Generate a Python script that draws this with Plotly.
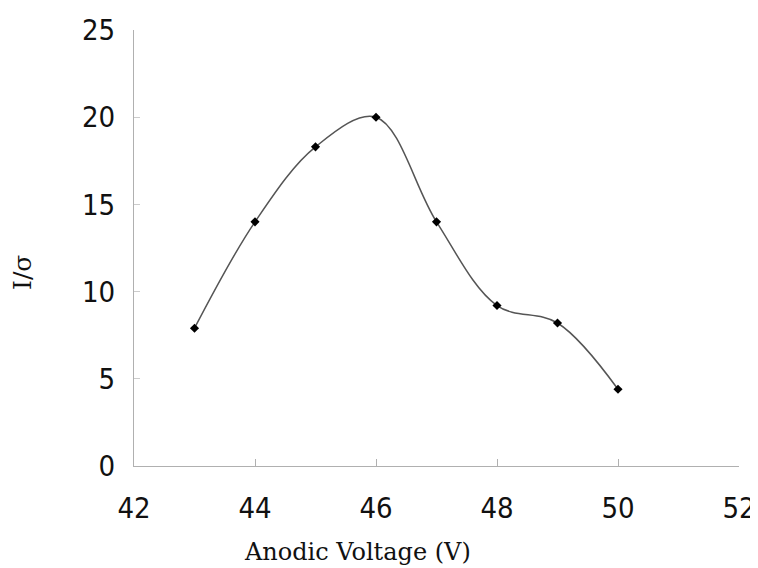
import plotly.graph_objects as go

voltage = [43, 44, 45, 46, 47, 48, 49, 50]
i_sigma = [7.9, 14.0, 18.3, 20.0, 14.0, 9.2, 8.2, 4.4]
x_ticks = [42, 44, 46, 48, 50, 52]
y_ticks = [0, 5, 10, 15, 20, 25]

fig = go.Figure()
fig.add_trace(go.Scatter(
    x=voltage, y=i_sigma, mode="lines+markers",
    line=dict(shape="spline", smoothing=1.0, color="#555555", width=1.5),
    marker=dict(symbol="diamond", size=7, color="black"),
    showlegend=False,
))

tickfont = dict(family="DejaVu Sans Condensed, Liberation Sans, Arial", size=29, color="#111111")
fig.update_layout(
    width=750, height=560,
    margin=dict(l=126, r=19, t=22, b=102),
    paper_bgcolor="white", plot_bgcolor="white",
    xaxis=dict(range=[42, 52], tickvals=x_ticks, showgrid=False, zeroline=False,
               showline=True, linecolor="#b0b0b0", linewidth=1,
               ticks="inside", ticklen=7, tickcolor="#b0b0b0",
               tickfont=tickfont, ticklabelstandoff=16, automargin=False),
    yaxis=dict(range=[0, 25], tickvals=y_ticks, showgrid=False, zeroline=False,
               showline=True, linecolor="#b0b0b0", linewidth=1,
               ticks="inside", ticklen=6, tickcolor="#cccccc",
               tickfont=tickfont, ticklabelstandoff=12, automargin=False),
    annotations=[
        dict(text="Anodic Voltage (V)", x=0.3686, y=0, xref="paper", yref="paper",
             xanchor="center", yanchor="middle", yshift=-86, showarrow=False,
             font=dict(family="DejaVu Serif, Liberation Serif, serif", size=24, color="#111111")),
        dict(text="I/σ", x=0, y=0.5, xref="paper", yref="paper", textangle=-90,
             xanchor="center", yanchor="middle", xshift=-112, yshift=-25, showarrow=False,
             font=dict(family="DejaVu Serif, Liberation Serif, serif", size=25, color="#111111")),
    ],
)
fig.write_html("out.html")
